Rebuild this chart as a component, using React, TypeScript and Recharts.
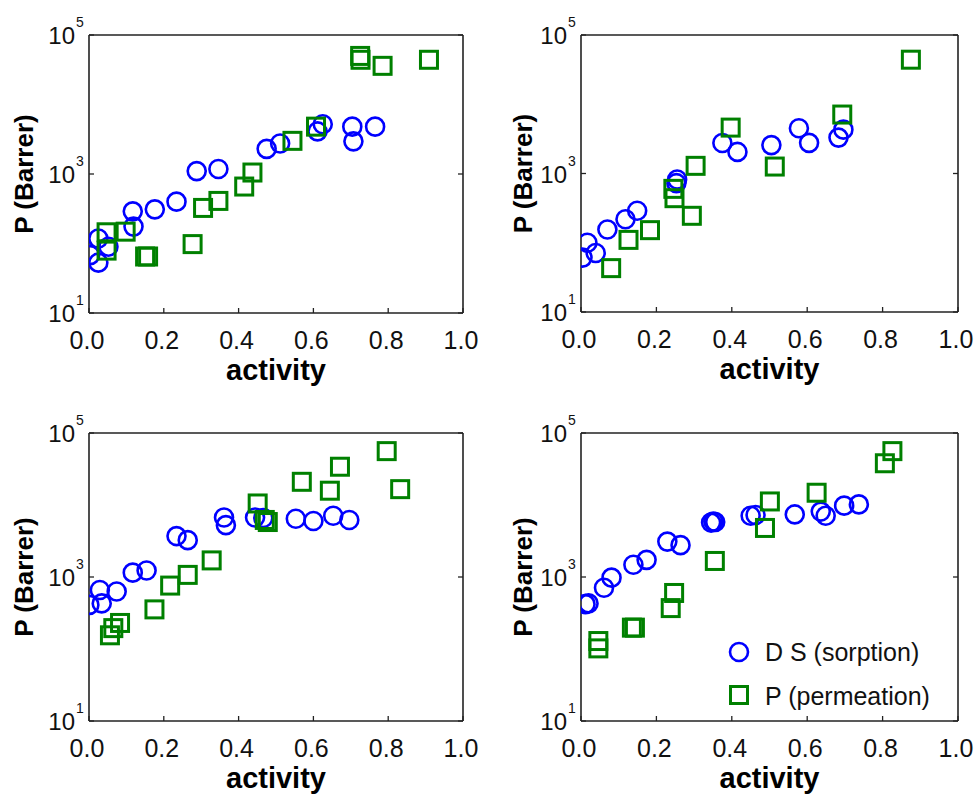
import React from 'react';
import { ScatterChart, Scatter, XAxis, YAxis, Legend } from 'recharts';

// ---- tick values ----
const xTicks = [0, 0.2, 0.4, 0.6, 0.8, 1.0];
const yTicks = [10, 1000, 100000];

// ---- panel A (top-left) ----
const sorptionA = [
  { a: 0.003, p: 68 }, { a: 0.025, p: 53 }, { a: 0.025, p: 118 }, { a: 0.052, p: 90 },
  { a: 0.117, p: 290 }, { a: 0.119, p: 175 }, { a: 0.176, p: 310 }, { a: 0.234, p: 400 },
  { a: 0.288, p: 1100 }, { a: 0.346, p: 1180 }, { a: 0.475, p: 2300 }, { a: 0.511, p: 2750 },
  { a: 0.611, p: 4100 }, { a: 0.625, p: 5200 }, { a: 0.704, p: 4800 }, { a: 0.707, p: 2950 },
  { a: 0.765, p: 4800 },
];
const permeationA = [
  { a: 0.047, p: 145 }, { a: 0.047, p: 79 }, { a: 0.098, p: 148 }, { a: 0.150, p: 65 },
  { a: 0.158, p: 65 }, { a: 0.277, p: 98 }, { a: 0.305, p: 325 }, { a: 0.346, p: 410 },
  { a: 0.415, p: 660 }, { a: 0.437, p: 1050 }, { a: 0.544, p: 3000 }, { a: 0.607, p: 4800 },
  { a: 0.725, p: 50000 }, { a: 0.726, p: 44000 }, { a: 0.785, p: 36000 }, { a: 0.909, p: 44000 },
];

// ---- panel B (top-right) ----
const sorptionB = [
  { a: 0.004, p: 61 }, { a: 0.017, p: 100 }, { a: 0.039, p: 71 }, { a: 0.070, p: 155 },
  { a: 0.118, p: 218 }, { a: 0.149, p: 290 }, { a: 0.253, p: 725 }, { a: 0.255, p: 820 },
  { a: 0.375, p: 2760 }, { a: 0.415, p: 2050 }, { a: 0.505, p: 2570 }, { a: 0.578, p: 4500 },
  { a: 0.605, p: 2770 }, { a: 0.683, p: 3300 }, { a: 0.696, p: 4300 },
];
const permeationB = [
  { a: 0.080, p: 43 }, { a: 0.126, p: 110 }, { a: 0.183, p: 152 }, { a: 0.245, p: 600 },
  { a: 0.248, p: 440 }, { a: 0.294, p: 245 }, { a: 0.304, p: 1290 }, { a: 0.397, p: 4600 },
  { a: 0.514, p: 1260 }, { a: 0.693, p: 7100 }, { a: 0.875, p: 44000 },
];

// ---- panel C (bottom-left) ----
const sorptionC = [
  { a: 0.001, p: 410 }, { a: 0.029, p: 660 }, { a: 0.034, p: 430 }, { a: 0.074, p: 630 },
  { a: 0.117, p: 1150 }, { a: 0.154, p: 1230 }, { a: 0.234, p: 3700 }, { a: 0.264, p: 3250 },
  { a: 0.361, p: 6700 }, { a: 0.366, p: 5250 }, { a: 0.444, p: 6700 }, { a: 0.466, p: 6600 },
  { a: 0.553, p: 6450 }, { a: 0.600, p: 6000 }, { a: 0.653, p: 7100 }, { a: 0.696, p: 6200 },
];
const permeationC = [
  { a: 0.056, p: 155 }, { a: 0.065, p: 195 }, { a: 0.083, p: 230 }, { a: 0.175, p: 355 },
  { a: 0.217, p: 760 }, { a: 0.264, p: 1070 }, { a: 0.328, p: 1700 }, { a: 0.451, p: 10500 },
  { a: 0.470, p: 6200 }, { a: 0.478, p: 5800 }, { a: 0.569, p: 21000 }, { a: 0.644, p: 15800 },
  { a: 0.671, p: 34000 }, { a: 0.796, p: 56000 }, { a: 0.832, p: 16600 },
];

// ---- panel D (bottom-right) ----
const sorptionD = [
  { a: 0.012, p: 420 }, { a: 0.020, p: 430 }, { a: 0.061, p: 710 }, { a: 0.081, p: 980 },
  { a: 0.139, p: 1480 }, { a: 0.174, p: 1730 }, { a: 0.229, p: 3100 }, { a: 0.264, p: 2770 },
  { a: 0.345, p: 5700 }, { a: 0.351, p: 5900 }, { a: 0.356, p: 5800 }, { a: 0.450, p: 7100 },
  { a: 0.463, p: 7250 }, { a: 0.567, p: 7400 }, { a: 0.636, p: 8100 }, { a: 0.649, p: 7100 },
  { a: 0.698, p: 9800 }, { a: 0.737, p: 10200 },
];
const permeationD = [
  { a: 0.046, p: 129 }, { a: 0.046, p: 102 }, { a: 0.135, p: 198 }, { a: 0.143, p: 198 },
  { a: 0.238, p: 370 }, { a: 0.247, p: 600 }, { a: 0.355, p: 1670 }, { a: 0.488, p: 4800 },
  { a: 0.501, p: 11200 }, { a: 0.625, p: 14800 }, { a: 0.806, p: 38000 }, { a: 0.826, p: 56000 },
];

const seriesNames = ['D S (sorption)', 'P (permeation)'];

const BLUE = '#0000ff';
const GREEN = '#008000';
const AXIS = '#222';
const FONT = '"Liberation Sans", Arial, sans-serif';
const CW = 489;
const CH = 397;

const CircleShape = (props: any) => (
  <circle cx={props.cx} cy={props.cy} r={9} fill="none" stroke={BLUE} strokeWidth={2.6} />
);
const SquareShape = (props: any) => (
  <rect x={props.cx - 8.5} y={props.cy - 8.5} width={17} height={17} fill="none" stroke={GREEN} strokeWidth={3} />
);

const YTickLeft = (props: any) => {
  const { x, y, payload } = props;
  const exp = Math.round(Math.log10(payload.value));
  return (
    <g>
      <line x1={x} x2={x + 5} y1={y} y2={y} stroke={AXIS} strokeWidth={1.3} />
      <text x={x - 14} y={y + 9} textAnchor="end" fontSize={24} fontFamily={FONT} fill="#111">10</text>
      <text x={x - 13} y={y - 8} textAnchor="start" fontSize={14} fontFamily={FONT} fill="#111">{exp}</text>
    </g>
  );
};
const YTickRight = (props: any) => {
  const { x, y } = props;
  return <line x1={x} x2={x - 5} y1={y} y2={y} stroke={AXIS} strokeWidth={1.3} />;
};
const XTickBottom = (props: any) => {
  const { x, y, payload } = props;
  return (
    <g>
      <line x1={x} x2={x} y1={y} y2={y - 5} stroke={AXIS} strokeWidth={1.3} />
      <text x={x - 2} y={y + 36} textAnchor="middle" fontSize={25} fontFamily={FONT} fill="#111">
        {Number(payload.value).toFixed(1)}
      </text>
    </g>
  );
};
const XTickTop = (props: any) => {
  const { x, y } = props;
  return <line x1={x} x2={x} y1={y} y2={y + 5} stroke={AXIS} strokeWidth={1.3} />;
};

const LegendContent = () => (
  <svg width={250} height={90} style={{ display: 'block', overflow: 'visible' }}>
    <circle cx={20} cy={25} r={9} fill="none" stroke={BLUE} strokeWidth={2.6} />
    <text x={46} y={34} fontSize={25} fontFamily={FONT} fill="#111">{seriesNames[0]}</text>
    <rect x={11.5} y={59.5} width={17} height={17} fill="none" stroke={GREEN} strokeWidth={3} />
    <text x={46} y={78} fontSize={25} fontFamily={FONT} fill="#111">{seriesNames[1]}</text>
  </svg>
);

type PanelProps = {
  left: number;
  top: number;
  plotLeft: number;
  plotTop: number;
  plotW: number;
  plotH: number;
  ylabOff: number;
  sorption: { a: number; p: number }[];
  permeation: { a: number; p: number }[];
  legend?: boolean;
};

const Panel = ({ left, top, plotLeft, plotTop, plotW, plotH, ylabOff, sorption, permeation, legend }: PanelProps) => {
  const rightW = CW - plotLeft - plotW;
  const bottomH = CH - plotTop - plotH;
  return (
    <div style={{ position: 'absolute', left, top, width: CW, height: CH }}>
      <ScatterChart width={CW} height={CH} margin={{ top: 0, right: 0, bottom: 0, left: 0 }}>
        <XAxis
          xAxisId="b"
          dataKey="a"
          type="number"
          domain={[0, 1]}
          ticks={xTicks}
          interval={0}
          allowDataOverflow
          orientation="bottom"
          height={bottomH}
          tickSize={0}
          tickMargin={0}
          tickLine={false}
          axisLine={{ stroke: AXIS, strokeWidth: 1.6 }}
          tick={<XTickBottom />}
          label={{
            content: (p: any) => {
              const vb = p.viewBox || {};
              return (
                <text x={vb.x + vb.width / 2} y={vb.y + 67} textAnchor="middle" fontSize={29} fontWeight="bold" fontFamily={FONT} fill="#000">
                  activity
                </text>
              );
            },
          }}
        />
        <XAxis
          xAxisId="t"
          type="number"
          domain={[0, 1]}
          ticks={xTicks}
          interval={0}
          allowDataOverflow
          orientation="top"
          height={plotTop}
          tickSize={0}
          tickMargin={0}
          tickLine={false}
          axisLine={{ stroke: AXIS, strokeWidth: 1.6 }}
          tick={<XTickTop />}
        />
        <YAxis
          yAxisId="l"
          dataKey="p"
          type="number"
          scale="log"
          domain={[10, 100000]}
          ticks={yTicks}
          interval={0}
          allowDataOverflow
          orientation="left"
          width={plotLeft}
          tickSize={0}
          tickMargin={0}
          tickLine={false}
          axisLine={{ stroke: AXIS, strokeWidth: 1.6 }}
          tick={<YTickLeft />}
          label={{
            content: (p: any) => {
              const vb = p.viewBox || {};
              const cx = vb.x + vb.width - ylabOff;
              const cy = vb.y + vb.height / 2;
              return (
                <text x={cx} y={cy} transform={`rotate(-90, ${cx}, ${cy})`} textAnchor="middle" fontSize={26} fontWeight="bold" fontFamily={FONT} fill="#000">
                  P (Barrer)
                </text>
              );
            },
          }}
        />
        <YAxis
          yAxisId="r"
          type="number"
          scale="log"
          domain={[10, 100000]}
          ticks={yTicks}
          interval={0}
          allowDataOverflow
          orientation="right"
          width={rightW}
          tickSize={0}
          tickMargin={0}
          tickLine={false}
          axisLine={{ stroke: AXIS, strokeWidth: 1.6 }}
          tick={<YTickRight />}
        />
        <Scatter
          name={seriesNames[0]}
          data={sorption}
          xAxisId="b"
          yAxisId="l"
          shape={CircleShape}
          isAnimationActive={false}
        />
        <Scatter
          name={seriesNames[1]}
          data={permeation}
          xAxisId="b"
          yAxisId="l"
          shape={SquareShape}
          isAnimationActive={false}
        />
        {legend && (
          <Legend
            layout="vertical"
            align="center"
            verticalAlign="middle"
            content={<LegendContent />}
            wrapperStyle={{ left: 230, top: 230, width: 250, height: 90 }}
          />
        )}
      </ScatterChart>
    </div>
  );
};

export default function App() {
  return (
    <div style={{ position: 'absolute', left: 0, top: 0, width: 978, height: 794, background: '#fff', overflow: 'hidden' }}>
      <Panel left={0} top={0} plotLeft={89} plotTop={35} plotW={374} plotH={278} ylabOff={56} sorption={sorptionA} permeation={permeationA} />
      <Panel left={489} top={0} plotLeft={92} plotTop={35} plotW={377} plotH={277} ylabOff={49} sorption={sorptionB} permeation={permeationB} />
      <Panel left={0} top={397} plotLeft={89} plotTop={36} plotW={374} plotH={288} ylabOff={56} sorption={sorptionC} permeation={permeationC} />
      <Panel left={489} top={397} plotLeft={92} plotTop={36} plotW={377} plotH={288} ylabOff={49} sorption={sorptionD} permeation={permeationD} legend />
    </div>
  );
}
